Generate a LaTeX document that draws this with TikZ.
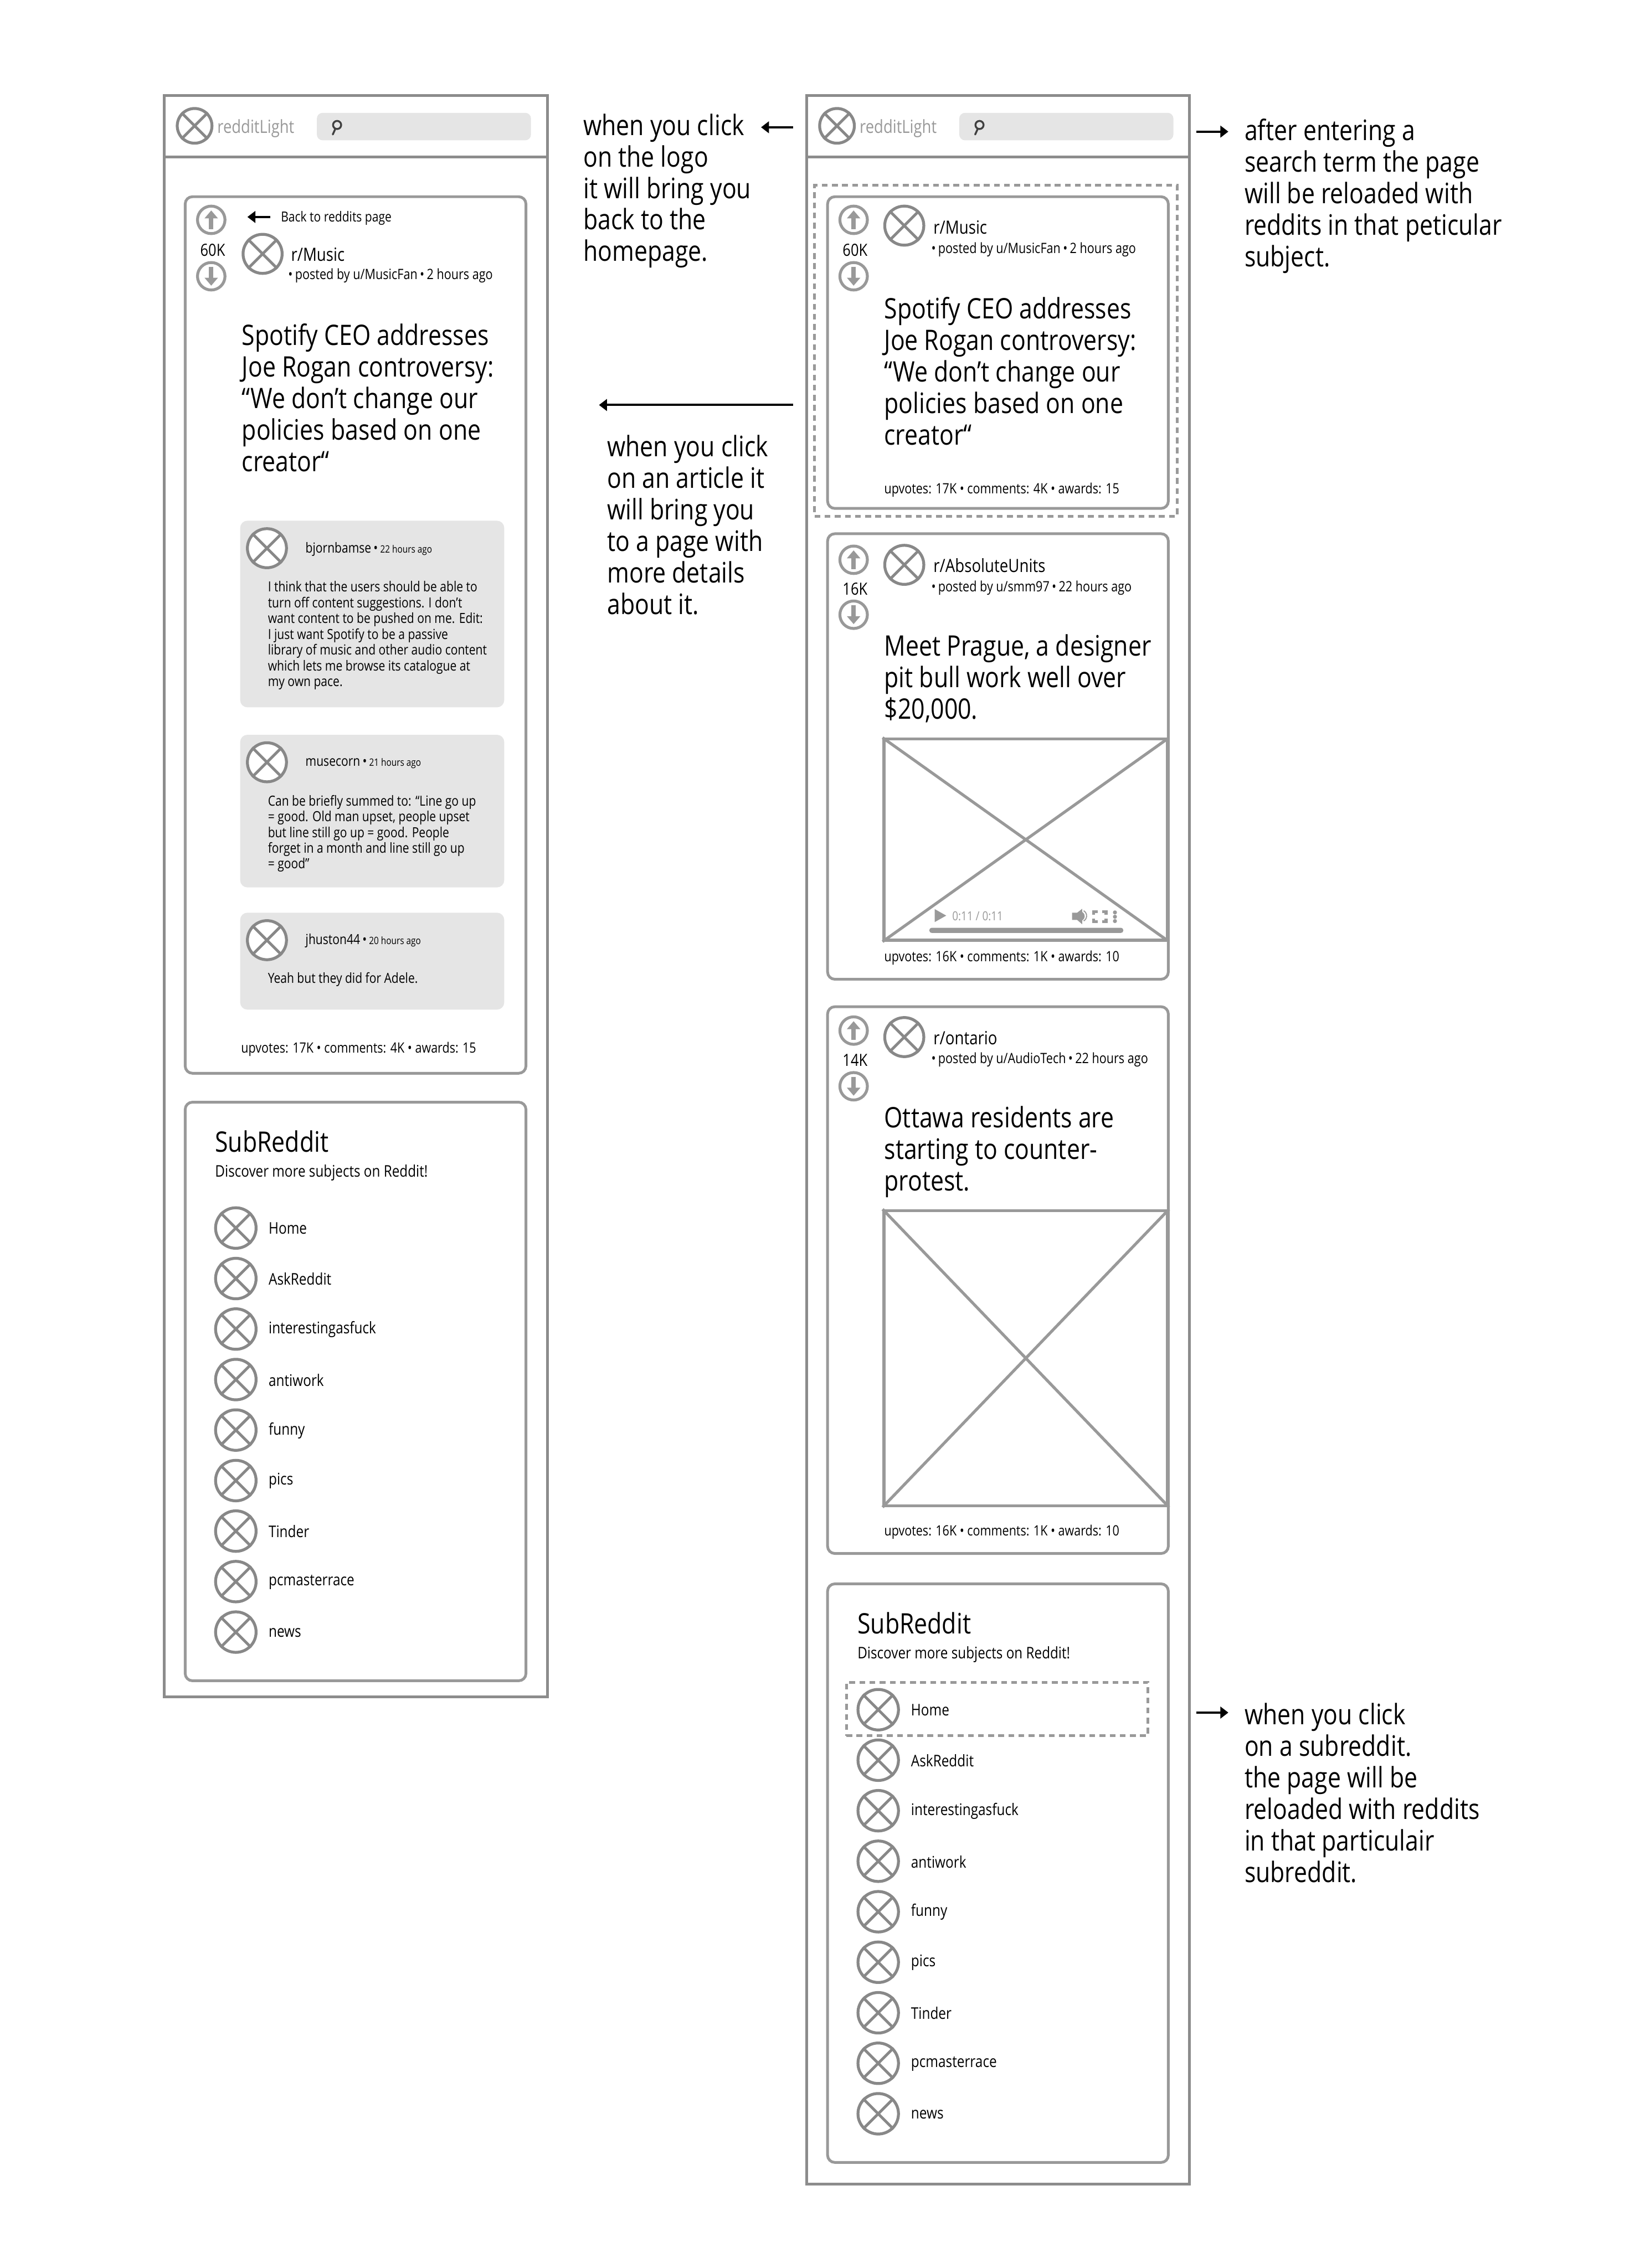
\documentclass[tikz,border=0pt]{standalone}
\usepackage{fontspec}
\setmainfont[FakeStretch=0.84]{Open Sans}
\usetikzlibrary{arrows.meta}
\definecolor{frame}{HTML}{8C8C8C}
\definecolor{ln}{HTML}{999999}
\definecolor{ic}{HTML}{888888}
\definecolor{pale}{HTML}{E5E5E5}
\tikzset{
 pagebox/.style={draw=frame,line width=2pt,inner sep=0,fill=white},
 card/.style={draw=ln,line width=1.9pt,rounded corners=5pt,inner sep=0,fill=white},
 media/.style={draw=ln,line width=2pt,inner sep=0},
 pick/.style={draw=ln,line width=1.9pt,dash pattern=on 4pt off 3pt,inner sep=0},
 pale box/.style={fill=pale,rounded corners=5pt,inner sep=0},
 xcirc/.style={circle,draw=ic,line width=2pt,inner sep=0,fill=white},
 vcirc/.style={circle,draw=ln,line width=2pt,inner sep=0,minimum size=19pt},
 tx/.style={anchor=west,inner sep=0,align=left},
 bigtext/.style={tx,font=\fontsize{19.5}{21.8}\selectfont},
 notetext/.style={tx,font=\fontsize{19.5}{21.8}\selectfont},
 headtext/.style={tx,font=\fontsize{12.6}{14}\selectfont},
 metatext/.style={tx,font=\fontsize{9.85}{11}\selectfont},
 foottext/.style={tx,font=\fontsize{9.8}{11}\selectfont},
 cmtext/.style={tx,font=\fontsize{9.6}{10.9}\selectfont},
 subtext/.style={tx,font=\fontsize{19.5}{22}\selectfont},
 itemtext/.style={tx,font=\fontsize{11.1}{12}\selectfont},
 votetext/.style={inner sep=0,font=\fontsize{11.6}{12}\selectfont},
 logotext/.style={tx,text=ln,font=\fontsize{12.5}{14}\selectfont},
 ptr/.style={-{Triangle[length=5.5pt,width=8pt]},line width=1.5pt,black},
 votearrow/.style={-{Triangle[length=5.5pt,width=9pt]},line width=3pt,draw=ln,fill=ln},
}
\newcommand\bx[6]{%
 \pgfmathsetmacro\cxx{((#3)+(#5))/2}\pgfmathsetmacro\cyy{((#4)+(#6))/2}%
 \pgfmathsetmacro\ww{(#5)-(#3)}\pgfmathsetmacro\hh{(#6)-(#4)}%
 \node[#2,minimum width=\ww pt,minimum height=\hh pt] (#1) at (\cxx,\cyy) {};}
\newcommand\xc[4]{%
 \node[xcirc,minimum size=#4pt] (#1) at (#2,#3) {};
 \draw[draw=ic,line width=1.9pt] (#1.45)--(#1.225) (#1.135)--(#1.315);}
\newcommand\crossed[1]{\draw[draw=ln,line width=2pt] (#1.north west)--(#1.south east) (#1.north east)--(#1.south west);}
\newcommand\updown[4]{% prefix, x, yup, ydown
 \node[vcirc] (#1u) at (#2,#3) {};
 \node[vcirc] (#1d) at (#2,#4) {};
 \coordinate (#1ua) at (#2,#3+6.5); \coordinate (#1ub) at (#2,#3-6.5);
 \coordinate (#1da) at (#2,#4-6.5); \coordinate (#1db) at (#2,#4+6.5);
 \draw[votearrow] (#1ua)--(#1ub);
 \draw[votearrow] (#1da)--(#1db);}
\newcommand\header[3]{% prefix, xoffset, y unused
 \draw[draw=frame,line width=2pt] (#2+113.5,108.5)--(#2+378.5,108.5);
 \xc{#1logo}{#2+134.5}{87}{24}
 \node[logotext] (#1name) at (#2+150,88.7) {redditLight};
 \bx{#1search}{pale box,rounded corners=4pt}{#2+219}{78}{#2+367}{97}
 \node[circle,draw=black!75,line width=1.3pt,inner sep=0,minimum size=5.6pt] (#1mag) at (#2+233,86.4) {};
 \coordinate (#1magb) at (#2+230,93);
 \draw[draw=black!75,line width=1.3pt,line cap=round] (#1mag)--(#1magb);}
\newcommand\subcard[4]{% prefix, x offset, y offset
 \bx{#1card}{card}{#2+128}{#3+762}{#2+363.5}{#3+1162}
 \node[subtext] (#1title) at (#2+148.5,#3+789) {SubReddit};
 \node[tx,font=\fontsize{11.05}{12}\selectfont] (#1disc) at (#2+148.5,#3+810.7) {Discover more subjects on Reddit!};
 \foreach \t [count=\i from 0] in {Home,AskReddit,interestingasfuck,antiwork,funny,pics,Tinder,pcmasterrace,news}{
  \pgfmathsetmacro\yy{#3+849+34.92*\i}
  \xc{#1c\i}{#2+163}{\yy}{28}
  \node[itemtext] (#1t\i) at (#2+185.5,\yy+0.3) {\t};
 }}
\begin{document}
\begin{tikzpicture}[x=1pt,y=-1pt]
\useasboundingbox[fill=white] (0,0) rectangle (1130,1568);

%% ---------- left page
\bx{lpage}{pagebox}{113.5}{66}{378.5}{1173}
\header{l}{0}{0}
\bx{lpost}{card}{128}{136}{363.5}{742}
\coordinate (bk1) at (187,150); \coordinate (bk0) at (171,150);
\draw[ptr] (bk1)--(bk0);
\node[tx,font=\fontsize{9.6}{11}\selectfont] (lback) at (194,151) {Back to reddits page};
\updown{lv}{146}{152}{191}
\node[votetext] (lvn) at (147,173) {60K};
\xc{lav}{181.5}{175.5}{27}
\node[headtext] (lsub) at (201,176) {r/Music};
\node[metatext] (lmeta) at (199,190.7) {•\,posted by u/MusicFan\,•\,2 hours ago};
\node[bigtext] (ltitle) at (167,275) {Spotify CEO addresses\\Joe Rogan controversy:\\“We don’t change our\\policies based on one\\creator“};

\bx{lc1}{pale box}{166}{360}{348.5}{489}
\xc{lc1a}{184.5}{379}{27}
\node[tx,font=\fontsize{9.6}{11}\selectfont] (lc1n) at (211,379.7) {bjornbamse\,•\,{\fontsize{7}{8}\selectfont 22 hours ago}};
\node[cmtext] (lc1t) at (185,439.3) {I think that the users should be able to\\turn off content suggestions. I don’t\\want content to be pushed on me. Edit:\\I just want Spotify to be a passive\\library of music and other audio content\\which lets me browse its catalogue at\\my own pace.};

\bx{lc2}{pale box}{166}{508}{348.5}{613.5}
\xc{lc2a}{184.5}{527}{27}
\node[tx,font=\fontsize{9.6}{11}\selectfont] (lc2n) at (211,527.7) {musecorn\,•\,{\fontsize{7}{8}\selectfont 21 hours ago}};
\node[cmtext] (lc2t) at (185,576.3) {Can be briefly summed to: “Line go up\\= good. Old man upset, people upset\\but line still go up = good. People\\forget in a month and line still go up\\= good”};

\bx{lc3}{pale box}{166}{631}{348.5}{698}
\xc{lc3a}{184.5}{650}{27}
\node[tx,font=\fontsize{9.6}{11}\selectfont] (lc3n) at (211,650.2) {jhuston44\,•\,{\fontsize{7}{8}\selectfont 20 hours ago}};
\node[cmtext] (lc3t) at (185,677.2) {Yeah but they did for Adele.};
\node[foottext] (lfoot) at (166.5,725.2) {upvotes: 17K • comments: 4K • awards: 15};

\subcard{ls}{0}{0}{}

%% ---------- right page
\bx{rpage}{pagebox}{557.5}{66}{822}{1510}
\header{r}{444}{0}

\bx{rp1}{card}{572}{136}{807.5}{351.5}
\bx{rpick}{pick}{563}{128}{813.5}{357}
\updown{ra}{590}{152}{191}
\node[votetext] (ran) at (591,173) {60K};
\xc{raa}{625}{156}{27}
\node[headtext] (ras) at (645,157) {r/Music};
\node[metatext] (ram) at (643.5,172.7) {•\,posted by u/MusicFan\,•\,2 hours ago};
\node[bigtext] (rat) at (611,256.5) {Spotify CEO addresses\\Joe Rogan controversy:\\“We don’t change our\\policies based on one\\creator“};
\node[foottext] (raf) at (611,338.7) {upvotes: 17K • comments: 4K • awards: 15};

\bx{rp2}{card}{572}{369}{807.5}{677}
\updown{rb}{590}{387}{425}
\node[votetext] (rbn) at (591,407) {16K};
\xc{rba}{625}{390.5}{27}
\node[headtext] (rbs) at (645,391) {r/AbsoluteUnits};
\node[metatext] (rbm) at (643.5,406.3) {•\,posted by u/smm97\,•\,22 hours ago};
\node[bigtext] (rbt) at (611,469) {Meet Prague, a designer\\pit bull work well over\\\$20,000.};
\bx{rbi}{media}{611}{511}{807}{650}
\crossed{rbi}
% video controls
\fill[ln] (646,628.5)--(654,633)--(646,637.5)--cycle;
\node[tx,text=ln,font=\fontsize{8.6}{10}\selectfont] (rbtime) at (658,633.3) {0:11 / 0:11};
\fill[ln] (741,631)--(744.5,631)--(748,628.3)--(748,639)--(744.5,636)--(741,636)--cycle;
\fill[ln] (748,630.5) arc[start angle=-60,end angle=60,radius=3.4]--cycle;
\draw[ln,line width=.7pt] (749,629.6) arc[start angle=-60,end angle=60,radius=4.1];
\draw[ln,line width=2pt] (756,632.5)--(756,630.3)--(758.8,630.3) (761.7,630.3)--(764.5,630.3)--(764.5,632.5) (764.5,635)--(764.5,637.3)--(761.7,637.3) (758.8,637.3)--(756,637.3)--(756,635);
\fill[ln] (770.6,630.8) circle (1.4) (770.6,633.8) circle (1.4) (770.6,636.8) circle (1.4);
\fill[ln,rounded corners=1.7pt] (642.3,641.4) rectangle (776.4,645);
\node[foottext] (rbf) at (611,662.2) {upvotes: 16K • comments: 1K • awards: 10};

\bx{rp3}{card}{572}{696}{807.5}{1074}
\updown{rc}{590}{712.5}{751}
\node[votetext] (rcn) at (591,733) {14K};
\xc{rca}{625}{717}{27}
\node[headtext] (rcs) at (645,717.5) {r/ontario};
\node[metatext] (rcm) at (643.5,732.7) {•\,posted by u/AudioTech\,•\,22 hours ago};
\node[bigtext] (rct) at (611,796.5) {Ottawa residents are\\starting to counter-\\protest.};
\bx{rci}{media}{611}{837}{807}{1041}
\crossed{rci}
\node[foottext] (rcf) at (611,1059.2) {upvotes: 16K • comments: 1K • awards: 10};

\subcard{rs}{444}{333}{}
\bx{rhome}{pick}{585}{1163}{793.5}{1200}

%% ---------- annotations
\node[notetext] (n1) at (403,132) {when you click\\on the logo\\it will bring you\\back to the\\homepage.};
\coordinate (a1s) at (548,88); \coordinate (a1e) at (526,88);
\draw[ptr] (a1s)--(a1e);
\coordinate (a2s) at (548,280); \coordinate (a2e) at (414,280);
\draw[ptr] (a2s)--(a2e);
\node[notetext] (n2) at (419.5,363) {when you click\\on an article it\\will bring you\\to a page with\\more details\\about it.};
\coordinate (a3s) at (827,91); \coordinate (a3e) at (849,91);
\draw[ptr] (a3s)--(a3e);
\node[notetext] (n3) at (860,135.5) {after entering a\\search term the page\\will be reloaded with\\reddits in that peticular\\subject.};
\coordinate (a4s) at (827,1184); \coordinate (a4e) at (849,1184);
\draw[ptr] (a4s)--(a4e);
\node[notetext] (n4) at (860,1239.5) {when you click\\on a subreddit.\\the page will be\\reloaded with reddits\\in that particulair\\subreddit.};
\end{tikzpicture}
\end{document}
